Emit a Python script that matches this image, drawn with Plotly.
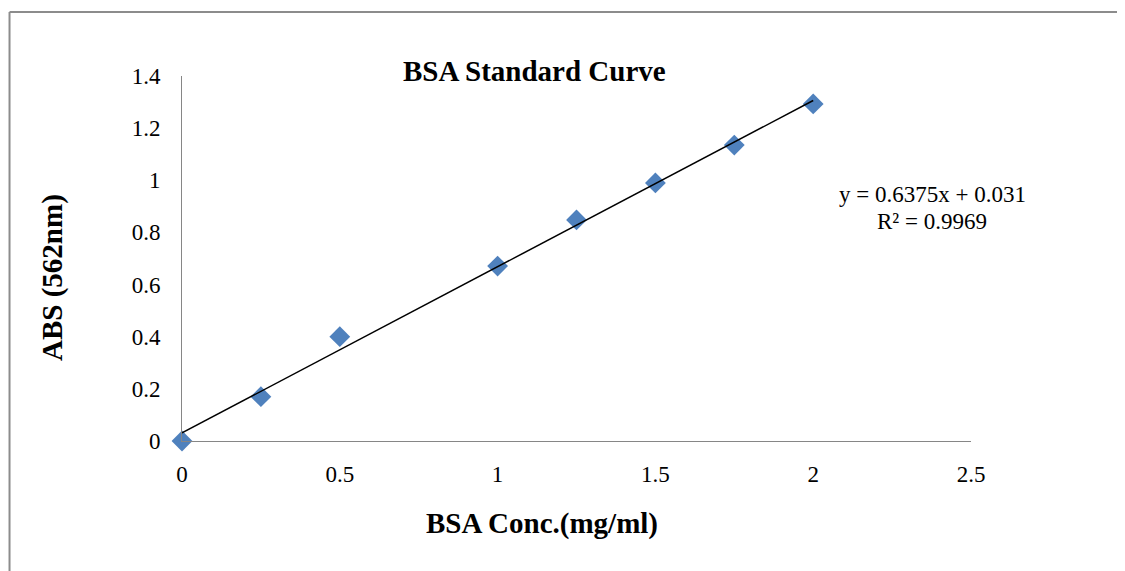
import plotly.graph_objects as go

# Data
conc = [0, 0.25, 0.5, 1.0, 1.25, 1.5, 1.75, 2.0]
absorbance = [0.0, 0.17, 0.40, 0.671, 0.848, 0.99, 1.135, 1.293]
slope = 0.6375
intercept = 0.031
trend_x = [0, 2.0]
trend_y = [slope * x + intercept for x in trend_x]
x_ticks = [0, 0.5, 1, 1.5, 2, 2.5]
y_ticks = [0, 0.2, 0.4, 0.6, 0.8, 1.0, 1.2, 1.4]
y_tick_labels = ["0", "0.2", "0.4", "0.6", "0.8", "1", "1.2", "1.4"]
x_tick_labels = ["0", "0.5", "1", "1.5", "2", "2.5"]

FONT = "Liberation Serif, Times New Roman, serif"

fig = go.Figure()
fig.add_trace(go.Scatter(
    x=conc, y=absorbance, mode="markers",
    marker=dict(symbol="diamond", size=16, color="#4F81BD", line=dict(width=0)),
    cliponaxis=False, showlegend=False,
))
fig.add_trace(go.Scatter(
    x=trend_x, y=trend_y, mode="lines",
    line=dict(color="black", width=1.5),
    cliponaxis=False, showlegend=False,
))

fig.update_layout(
    width=1125, height=571,
    margin=dict(l=174, r=162, t=68, b=138),
    paper_bgcolor="white", plot_bgcolor="white",
    font=dict(family=FONT, color="black", size=23),
    xaxis=dict(range=[0, 2.5], tickvals=x_ticks, ticktext=x_tick_labels,
               showgrid=False, zeroline=False, showline=True,
               linecolor="#868686", linewidth=1, ticks="",
               ticklabelstandoff=12, tickfont=dict(size=23, family=FONT)),
    yaxis=dict(range=[0, 1.4], tickvals=y_ticks, ticktext=y_tick_labels,
               showgrid=False, zeroline=False, showline=True,
               linecolor="#868686", linewidth=1, ticks="",
               ticklabelstandoff=16, tickfont=dict(size=23, family=FONT)),
    shapes=[
        dict(type="line", xref="paper", yref="paper",
             x0=-0.2186, x1=1.5, y0=1.1753, y1=1.1753,
             line=dict(color="#8c8c8c", width=2)),
        dict(type="line", xref="paper", yref="paper",
             x0=-0.2186, x1=-0.2186, y0=-0.5, y1=1.1753,
             line=dict(color="#8c8c8c", width=2)),
    ],
    annotations=[
        dict(text="<b>BSA Standard Curve</b>", xref="paper", yref="paper",
             x=0.4468, y=1.0137, xanchor="center", yanchor="middle",
             showarrow=False, font=dict(size=29, family=FONT)),
        dict(text="<b>BSA Conc.(mg/ml)</b>", xref="paper", yref="paper",
             x=0.4569, y=-0.2247, xanchor="center", yanchor="middle",
             showarrow=False, font=dict(size=29, family=FONT)),
        dict(text="<b>ABS (562nm)</b>", xref="paper", yref="paper",
             x=-0.1648, y=0.4493, xanchor="center", yanchor="middle",
             textangle=-90, showarrow=False, font=dict(size=29, family=FONT)),
        dict(text=f"y = {slope}x + {intercept}", xref="paper", yref="paper",
             x=0.9506, y=0.6767, xanchor="center", yanchor="middle",
             showarrow=False, font=dict(size=23, family=FONT)),
        dict(text="R² = 0.9969", xref="paper", yref="paper",
             x=0.9506, y=0.6027, xanchor="center", yanchor="middle",
             showarrow=False, font=dict(size=23, family=FONT)),
    ],
)

fig.write_html("out.html")
